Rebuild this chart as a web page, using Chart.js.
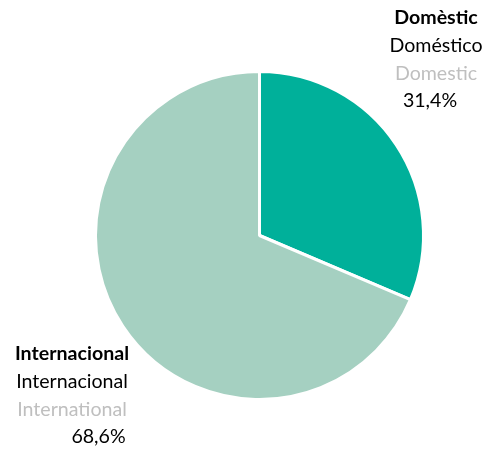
<!DOCTYPE html>
<html><head><meta charset="utf-8">
<script src="https://cdn.jsdelivr.net/npm/chart.js@4"></script>
<style>html,body{margin:0;padding:0;background:#fff}#wrap{width:487px;height:452px;position:relative}</style>
</head><body><div id="wrap"><canvas id="c" width="487" height="452"></canvas></div>
<script>
const categories = ["Domèstic", "Internacional"];
const labelsES = ["Doméstico", "Internacional"];
const labelsEN = ["Domestic", "International"];
const values = [31.4, 68.6];
const colors = ["#00B09A", "#A5D0C1"];

const FONT = "Lato, 'Noto Sans', sans-serif";
const labelPlugin = {
  id: 'sliceLabels',
  afterDraw(chart) {
    const ctx = chart.ctx;
    const pos = [
      {x: 436, y: 18, px: 430},
      {x: 72, y: 354, px: 98.5}
    ];
    ctx.save();
    ctx.textAlign = 'center';
    ctx.textBaseline = 'middle';
    categories.forEach((c, i) => {
      const p = pos[i];
      const dy = 27.6;
      ctx.font = "bold 19.6px " + FONT;
      ctx.fillStyle = "#000";
      ctx.fillText(c, p.x, p.y);
      ctx.font = "19.6px " + FONT;
      ctx.fillText(labelsES[i], p.x, p.y + dy);
      ctx.fillStyle = "#BFBFBF";
      ctx.fillText(labelsEN[i], p.x, p.y + 2 * dy);
      ctx.fillStyle = "#000";
      ctx.fillText(values[i].toFixed(1).replace('.', ',') + '%', p.px, p.y + 3 * dy);
    });
    ctx.restore();
  }
};

new Chart(document.getElementById('c'), {
  type: 'pie',
  data: {
    labels: categories,
    datasets: [{
      data: values,
      backgroundColor: colors,
      borderColor: '#FFFFFF',
      borderWidth: 3
    }]
  },
  options: {
    responsive: false,
    animation: false,
    layout: { padding: { top: 70, bottom: 51, left: 59.5, right: 27.5 } },
    plugins: { legend: { display: false }, tooltip: { enabled: false } }
  },
  plugins: [labelPlugin]
});
</script></body></html>
